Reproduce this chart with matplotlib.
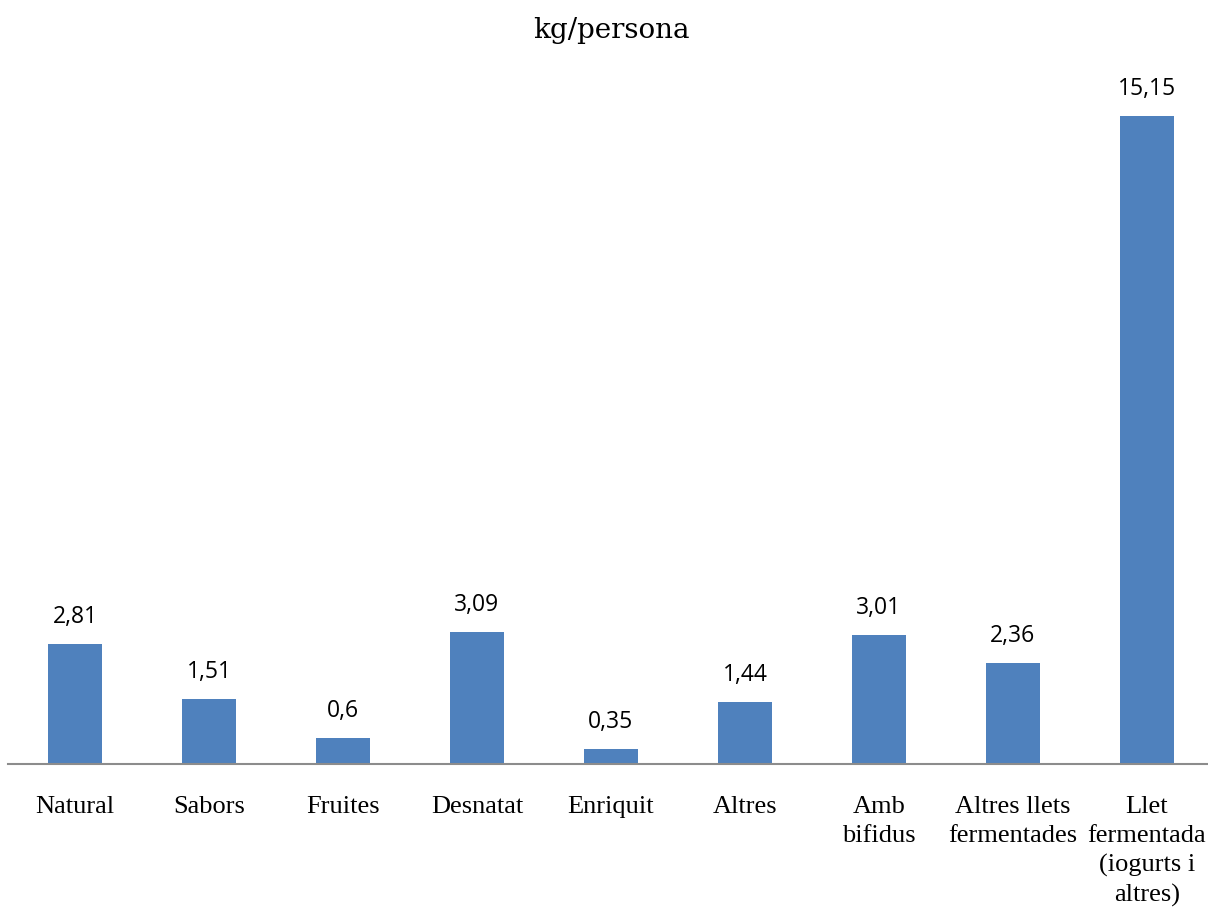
import matplotlib
matplotlib.use('Agg')
import matplotlib.pyplot as plt

categories = ['Natural', 'Sabors', 'Fruites', 'Desnatat', 'Enriquit', 'Altres',
              'Amb\nbifidus', 'Altres llets\nfermentades',
              'Llet\nfermentada\n(iogurts i\naltres)']
values = [2.81, 1.51, 0.6, 3.09, 0.35, 1.44, 3.01, 2.36, 15.15]
value_labels = ['2,81', '1,51', '0,6', '3,09', '0,35', '1,44', '3,01', '2,36', '15,15']

fig = plt.figure(figsize=(12.08, 9.07), dpi=100)
ax = fig.add_axes([0.0066, 0.1577, 0.9983, 0.754])

x = range(len(categories))
ax.bar(x, values, width=0.4, color='#4f81bd')
ax.set_xlim(-0.5, len(categories) - 0.5)
ax.set_ylim(0, 16)

for i, (v, lab) in enumerate(zip(values, value_labels)):
    ax.annotate(lab, (i, v), xytext=(0, 11), textcoords='offset points',
                ha='center', va='bottom', fontsize=16.5, family='Open Sans')

ax.set_xticks(list(x))
ax.set_xticklabels(categories, family='Liberation Serif', fontsize=19,
                   linespacing=1.4, va='top')
ax.tick_params(axis='x', length=0, pad=23)
ax.set_yticks([])

for s in ['top', 'right', 'left']:
    ax.spines[s].set_visible(False)
ax.spines['bottom'].set_color('#8c8c8c')
ax.spines['bottom'].set_linewidth(1.5)

fig.text(0.506, 0.966, 'kg/persona', ha='center', va='center',
         fontsize=20, family='DejaVu Serif')

fig.savefig('out.png', dpi=100)
